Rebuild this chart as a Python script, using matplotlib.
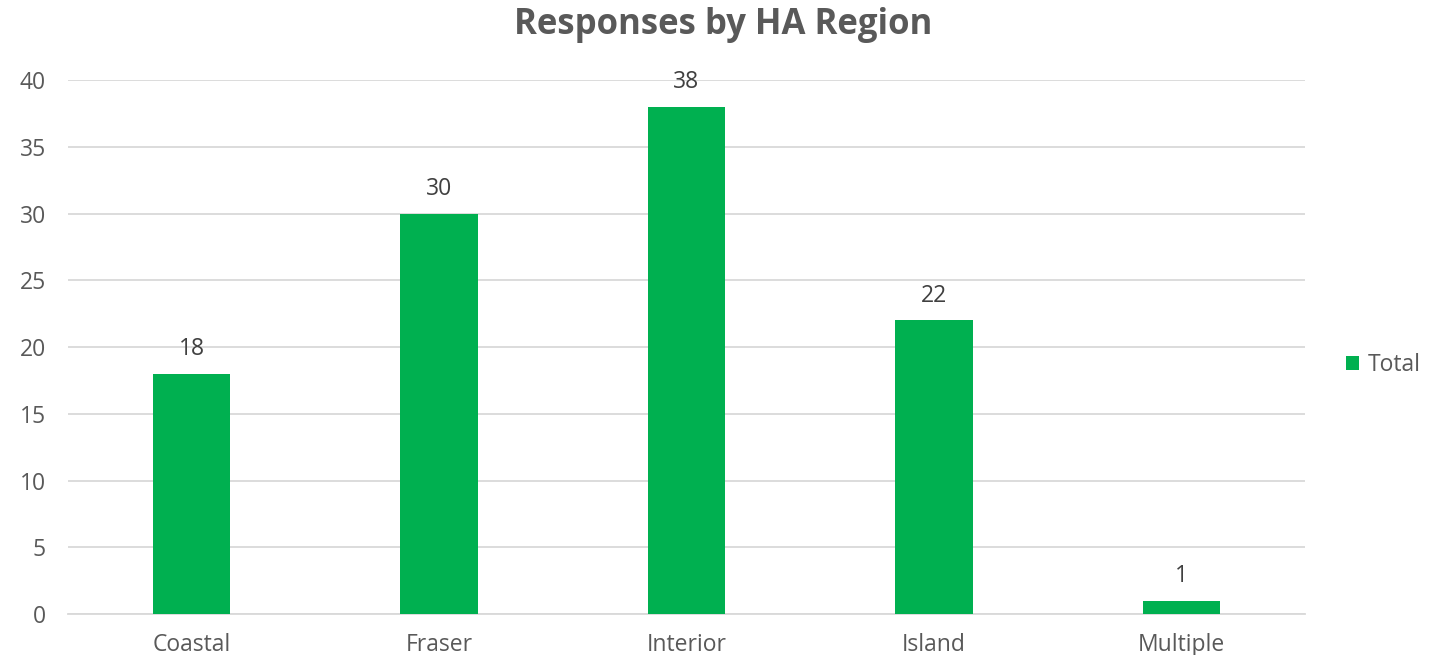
import matplotlib.pyplot as plt

regions = ['Coastal', 'Fraser', 'Interior', 'Island', 'Multiple']
totals = [18, 30, 38, 22, 1]
y_ticks = [0, 5, 10, 15, 20, 25, 30, 35, 40]

plt.rcParams['font.family'] = ['Open Sans', 'DejaVu Sans']

fig = plt.figure(figsize=(14.39, 6.55), dpi=100)
ax = fig.add_axes([68 / 1439, 1 - 614 / 655, (1305 - 68) / 1439, (614 - 80) / 655])

bars = ax.bar(range(len(regions)), totals, width=0.313, color='#00B050', label='Total', zorder=3)
for rect, val in zip(bars, totals):
    ax.annotate(str(val), (rect.get_x() + rect.get_width() / 2, val),
                xytext=(0, 9), textcoords='offset points',
                ha='center', va='bottom', fontsize=16.5, color='#404040')

ax.set_xlim(-0.5, len(regions) - 0.5)
ax.set_ylim(0, 40)
ax.set_yticks(y_ticks)
ax.set_xticks(range(len(regions)))
ax.set_xticklabels(regions)
ax.grid(True, axis='y', color='#D9D9D9', linewidth=1.3, zorder=0)
for side in ['top', 'right', 'left']:
    ax.spines[side].set_visible(False)
ax.spines['bottom'].set_color('#D9D9D9')
ax.spines['bottom'].set_linewidth(1.3)
ax.tick_params(axis='both', length=0, labelsize=16.5, colors='#595959')
ax.tick_params(axis='y', pad=16)
ax.tick_params(axis='x', pad=14)

fig.text(723 / 1439, 1 - 25 / 655, 'Responses by HA Region', ha='center', va='center',
         fontsize=25, fontweight='bold', color='#595959')

fig.legend(handles=[bars], labels=['Total'], loc='center left',
           bbox_to_anchor=(1325 / 1439, 1 - 365 / 655), frameon=False,
           fontsize=16.5, handlelength=0.6, handleheight=0.6, handletextpad=0.35,
           labelcolor='#595959')

fig.savefig('out.png', dpi=100)
